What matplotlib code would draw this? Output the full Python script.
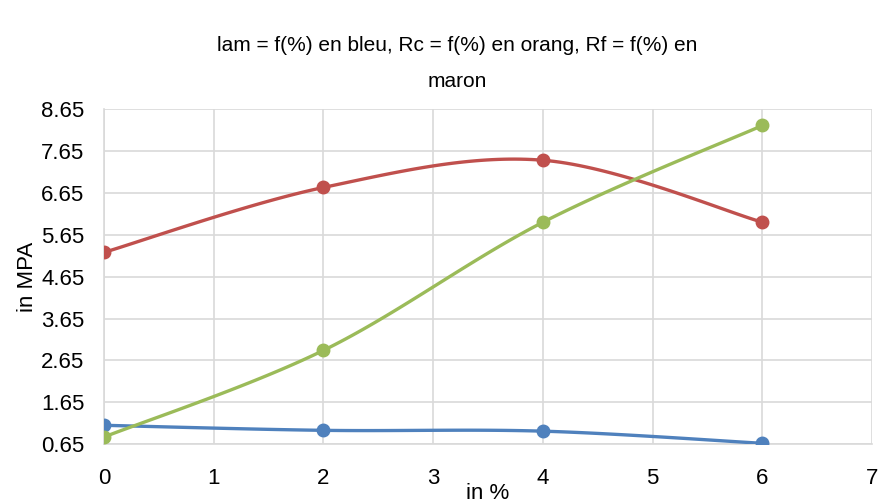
import numpy as np
import matplotlib
matplotlib.use("Agg")
import matplotlib.pyplot as plt

plt.rcParams['font.family'] = ['Liberation Sans', 'DejaVu Sans']

# Data
pct = [0, 2, 4, 6]
lam = [1.10, 0.98, 0.96, 0.67]
rc = [5.23, 6.78, 7.43, 5.95]
rf = [0.82, 2.89, 5.95, 8.26]
yticks = [0.65, 1.65, 2.65, 3.65, 4.65, 5.65, 6.65, 7.65, 8.65]
xticks = [0, 1, 2, 3, 4, 5, 6, 7]

colors = {'lam': '#4F81BD', 'rc': '#C0504D', 'rf': '#9BBB59'}


def smooth(x, y, n=40):
    """Cubic Bezier smoothing through the points (spreadsheet-style)."""
    x = np.asarray(x, float)
    y = np.asarray(y, float)
    px = np.concatenate([[x[0]], x, [x[-1]]])
    py = np.concatenate([[y[0]], y, [y[-1]]])
    xs, ys = [], []
    t = np.linspace(0, 1, n)
    for i in range(len(x) - 1):
        p0 = np.array([px[i + 1], py[i + 1]])
        p3 = np.array([px[i + 2], py[i + 2]])
        c1 = p0 + (np.array([px[i + 2], py[i + 2]]) - np.array([px[i], py[i]])) / 6
        c2 = p3 - (np.array([px[i + 3], py[i + 3]]) - np.array([px[i + 1], py[i + 1]])) / 6
        b = ((1 - t) ** 3)[:, None] * p0 + (3 * (1 - t) ** 2 * t)[:, None] * c1 \
            + (3 * (1 - t) * t ** 2)[:, None] * c2 + (t ** 3)[:, None] * p3
        xs.append(b[:, 0])
        ys.append(b[:, 1])
    return np.concatenate(xs), np.concatenate(ys)


fig = plt.figure(figsize=(8.85, 5.03), dpi=100)
ax = fig.add_axes([0.1175, 0.117, 0.868, 0.666])

for key, vals in (('lam', lam), ('rc', rc), ('rf', rf)):
    sx, sy = smooth(pct, vals)
    ax.plot(sx, sy, color=colors[key], lw=2.4, solid_capstyle='round', zorder=3)
    ax.plot(pct, vals, 'o', color=colors[key], ms=9, zorder=4)

ax.set_xlim(0, 7)
ax.set_ylim(0.65, 8.65)
ax.set_xticks(xticks)
ax.set_yticks(yticks)
ax.set_yticklabels([f"{v:.2f}" for v in yticks])
ax.grid(True, color='#d9d9d9', lw=1.2)
ax.set_axisbelow(True)
for s in ('top', 'right'):
    ax.spines[s].set_visible(False)
for s in ('left', 'bottom'):
    ax.spines[s].set_color('#d9d9d9')
    ax.spines[s].set_linewidth(1.2)
ax.tick_params(length=0, labelsize=16, colors='black')
ax.tick_params(axis='x', pad=17)
ax.tick_params(axis='y', pad=14)

ax.set_xlabel('in %', fontsize=16, labelpad=-4)
ax.set_ylabel('in MPA', fontsize=16, labelpad=2)

fig.text(0.517, 0.91, 'lam = f(%) en bleu, Rc = f(%) en orang, Rf = f(%) en',
         ha='center', va='center', fontsize=15)
fig.text(0.517, 0.837, 'maron', ha='center', va='center', fontsize=15)

fig.savefig('out.png', dpi=100)
